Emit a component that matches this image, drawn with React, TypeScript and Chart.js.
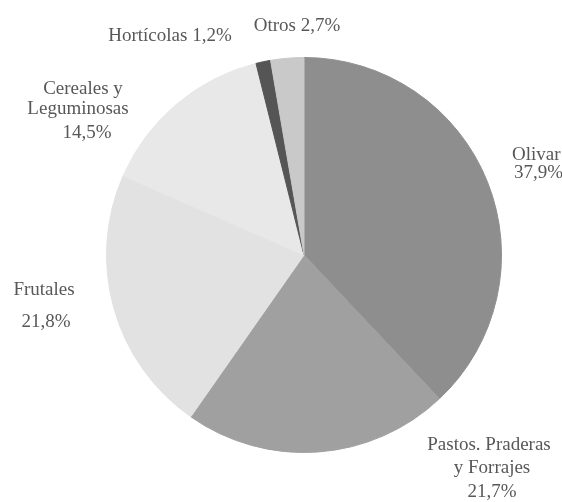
import React, { useEffect, useRef } from "react";
import { Chart, registerables } from "chart.js";

Chart.register(...registerables);

const categories = ["Olivar", "Pastos, Praderas y Forrajes", "Frutales", "Cereales y Leguminosas", "Hortícolas", "Otros"];
const values = [37.9, 21.7, 21.8, 14.5, 1.2, 2.7];
const colors = ["#8e8e8e", "#a0a0a0", "#e2e2e2", "#e8e8e8", "#555555", "#c9c9c9"];

// label text lines per category
const labelLines: string[][] = [
  ["Olivar", "37,9%"],
  ["Pastos. Praderas", "y Forrajes", "21,7%"],
  ["Frutales", "21,8%"],
  ["Cereales y", "Leguminosas", "14,5%"],
  ["Hortícolas 1,2%"],
  ["Otros 2,7%"],
];

// layout: offsets (px) relative to pie center for each line's anchor, plus alignment
const labelLayout: { align: CanvasTextAlign; pos: [number, number][] }[] = [
  { align: "left", pos: [[208, -95], [210, -77]] },
  { align: "center", pos: [[185, 195], [188, 218], [188, 242]] },
  { align: "center", pos: [[-260, 40], [-258, 72]] },
  { align: "center", pos: [[-221, -161], [-226, -141], [-217, -117]] },
  { align: "center", pos: [[-134, -214]] },
  { align: "center", pos: [[-7, -224]] },
];

const labelPlugin = {
  id: "sliceLabels",
  afterDraw(chart: any) {
    const ctx = chart.ctx;
    const arc = chart.getDatasetMeta(0).data[0];
    if (!arc) return;
    const cx = arc.x;
    const cy = arc.y;
    ctx.save();
    ctx.fillStyle = "#585858";
    ctx.font = '19px "Liberation Serif", "DejaVu Serif", serif';
    ctx.textBaseline = "alphabetic";
    labelLines.forEach((lines, i) => {
      const lay = labelLayout[i];
      ctx.textAlign = lay.align;
      lines.forEach((t, j) => {
        const p = lay.pos[j];
        ctx.fillText(t, cx + p[0], cy + p[1]);
      });
    });
    ctx.restore();
  },
};

export default function App() {
  const ref = useRef<HTMLCanvasElement>(null);
  useEffect(() => {
    if (!ref.current) return;
    const chart = new Chart(ref.current, {
      type: "pie",
      data: {
        labels: categories,
        datasets: [
          {
            data: values,
            backgroundColor: colors,
            borderColor: colors,
            borderWidth: 1,
          },
        ],
      },
      options: {
        responsive: false,
        animation: false,
        layout: { padding: { left: 105, right: 59, top: 57, bottom: 49 } },
        plugins: {
          legend: { display: false },
          tooltip: { enabled: false },
          title: { display: false },
        },
      },
      plugins: [labelPlugin],
    });
    return () => chart.destroy();
  }, []);
  return (
    <div style={{ position: "absolute", left: 0, top: 0, width: 562, height: 502, background: "#ffffff" }}>
      <canvas ref={ref} width={562} height={502} style={{ width: 562, height: 502, display: "block" }} />
    </div>
  );
}
